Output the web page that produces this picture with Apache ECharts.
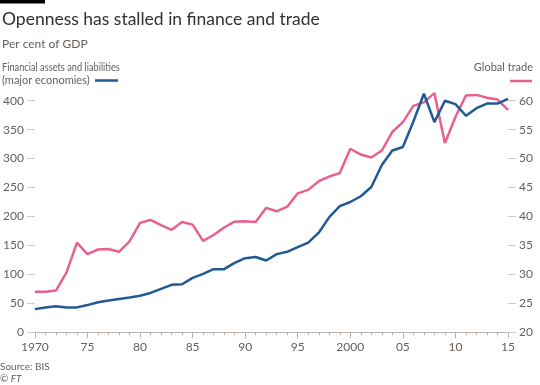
<!DOCTYPE html>
<html><head><meta charset="utf-8">
<script src="https://cdn.jsdelivr.net/npm/echarts@6/dist/echarts.min.js"></script>
<style>html,body{margin:0;padding:0;background:#fff}#c{width:540px;height:385px}</style>
</head><body><div id="c"></div>
<script>
const years = [1970,1971,1972,1973,1974,1975,1976,1977,1978,1979,1980,1981,1982,1983,1984,1985,1986,1987,1988,1989,1990,1991,1992,1993,1994,1995,1996,1997,1998,1999,2000,2001,2002,2003,2004,2005,2006,2007,2008,2009,2010,2011,2012,2013,2014,2015];
const financial = [40,43,45,43,43,47,52,55,57.5,60,63,68,75,82,83,94,101,109,109,120,128,130,124,135,139,147,155,172,199,218,225,235,251,289,314,320,364,412,363,400,394,374,387,395,395,403];
const trade = [27.0,27.0,27.2,30.3,35.5,33.5,34.3,34.4,33.9,35.7,38.9,39.4,38.5,37.7,39.05,38.6,35.8,36.8,38.1,39.1,39.2,39.05,41.5,40.9,41.7,44.0,44.6,46.1,46.9,47.5,51.7,50.7,50.2,51.4,54.6,56.3,59.1,59.7,61.3,52.7,57.2,60.9,61.0,60.5,60.2,58.4];
const leftTicks = [0,50,100,150,200,250,300,350,400];
const rightTicks = [20,25,30,35,40,45,50,55,60];
const titleText = 'Openness has stalled in finance and trade';
const subtitleText = 'Per cent of GDP';
const finLabel1 = 'Financial assets and liabilities';
const finLabel2 = '(major economies)';
const tradeLabel = 'Global trade';
const sourceText = 'Source: BIS';
const copyText = '© FT';

const FONT = 'Lato, "Open Sans", sans-serif';
const BLUE = '#215a93';
const PINK = '#e8608f';
const GREY = '#66605c';
const TICK = '#cfcac6';

const chart = echarts.init(document.getElementById('c'), null, {renderer:'canvas'});
chart.setOption({
  backgroundColor:'#fff',
  animation:false,
  textStyle:{fontFamily:FONT},
  grid:{left:34, right:32, top:100.7, bottom:52.7},
  xAxis:{
    type:'value', min:1970, max:2015, interval:5,
    axisLine:{show:true, lineStyle:{color:'#b8b3ae', width:1}},
    axisTick:{show:true, length:6, lineStyle:{color:'#b8b3ae'}},
    minorTick:{show:true, splitNumber:5, length:3, lineStyle:{color:'#b8b3ae'}},
    splitLine:{show:false},
    axisLabel:{color:GREY, fontSize:12, fontFamily:FONT, margin:9,
      formatter:v => (v===1970||v===2000) ? String(v) : String(v).slice(2)}
  },
  yAxis:[
    {type:'value', min:leftTicks[0], max:leftTicks[leftTicks.length-1], interval:50, position:'left',
     axisLine:{show:false}, splitLine:{show:false},
     axisTick:{show:true, length:8, lineStyle:{color:TICK}},
     axisLabel:{color:GREY, fontSize:12, fontFamily:FONT, margin:11}},
    {type:'value', min:rightTicks[0], max:rightTicks[rightTicks.length-1], interval:5, position:'right',
     axisLine:{show:false}, splitLine:{show:false},
     axisTick:{show:true, length:8, lineStyle:{color:TICK}},
     axisLabel:{color:GREY, fontSize:12, fontFamily:FONT, margin:11}}
  ],
  series:[
    {name:tradeLabel, type:'line', yAxisIndex:1, showSymbol:false, symbol:'none', clip:false,
     data:years.map((y,i)=>[y,trade[i]]), lineStyle:{color:PINK, width:2.5}, z:2},
    {name:finLabel1, type:'line', yAxisIndex:0, showSymbol:false, symbol:'none', clip:false,
     data:years.map((y,i)=>[y,financial[i]]), lineStyle:{color:BLUE, width:2.5}, z:3}
  ],
  graphic:[
    {type:'rect', shape:{x:0,y:0,width:45,height:3.5}, style:{fill:'#000'}},
    {type:'text', x:2, y:10, style:{text:titleText, fill:'#33302e', font:'17.5px '+FONT}},
    {type:'text', x:2, y:38, style:{text:subtitleText, fill:GREY, font:'12px '+FONT}},
    {type:'text', x:2, y:62, scaleX:0.84, style:{text:finLabel1, fill:GREY, font:'11px '+FONT}},
    {type:'text', x:2, y:75, style:{text:finLabel2, fill:GREY, font:'11px '+FONT}},
    {type:'line', shape:{x1:95,y1:80.5,x2:118,y2:80.5}, style:{stroke:BLUE, lineWidth:2.5}},
    {type:'text', right:7, top:62, style:{text:tradeLabel, fill:GREY, font:'11px '+FONT}},
    {type:'line', shape:{x1:510,y1:81,x2:532,y2:81}, style:{stroke:PINK, lineWidth:2.5}},
    {type:'text', x:0, y:362, style:{text:sourceText, fill:GREY, font:'10px '+FONT}},
    {type:'text', x:0, y:374, style:{text:copyText, fill:GREY, font:'italic 10px '+FONT}}
  ]
});
</script></body></html>
